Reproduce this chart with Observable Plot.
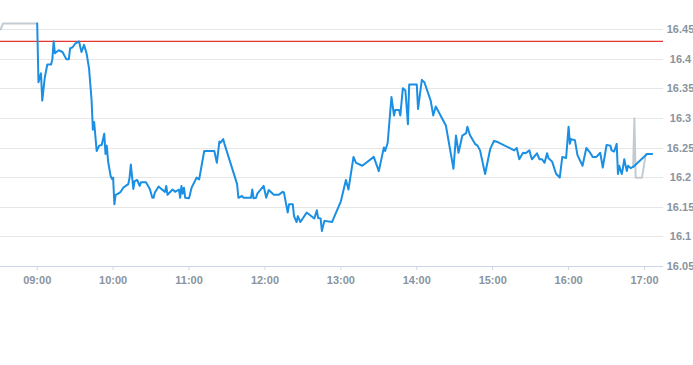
<!DOCTYPE html>
<html><head><meta charset="utf-8">
<script src="https://cdn.jsdelivr.net/npm/d3@7"></script>
<script src="https://cdn.jsdelivr.net/npm/@observablehq/plot@0.6"></script>
<style>body{margin:0;background:#fff} svg{display:block}</style>
</head><body><div id="chart"></div>
<script>
const xStart = "08:31", xEnd = "17:15";
const xTicks = ["09:00","10:00","11:00","12:00","13:00","14:00","15:00","16:00","17:00"];
const yTicks = [16.05,16.1,16.15,16.2,16.25,16.3,16.35,16.4,16.45];
const prevClose = 16.43;

const preTimes = ["08:31","08:33","09:00"];
const preValues = [16.45,16.46,16.46];

const postTimes = ["16:51","16:52","16:53","16:58","17:01","17:02"];
const postValues = [16.218,16.30,16.20,16.20,16.24,16.24];

const mainTimes = ["09:00","09:01","09:03","09:04","09:06","09:08","09:11","09:12","09:13","09:14","09:17","09:20","09:23","09:25","09:26","09:28","09:30","09:33","09:35","09:37","09:39","09:41","09:43","09:44","09:45","09:47","09:49","09:51","09:53","09:54","09:55","09:56","09:58","09:59",
"10:00","10:01","10:02","10:04","10:06","10:08","10:10","10:12","10:13","10:14","10:16","10:17","10:19","10:21","10:22","10:26","10:29","10:31","10:32","10:33","10:36","10:38","10:41","10:42","10:43","10:47","10:49","10:52","10:53","10:54","10:55","10:56","10:57",
"11:00","11:02","11:06","11:08","11:12","11:20","11:22","11:24","11:25","11:27","11:28","11:38","11:39","11:42","11:43","11:49","11:50","11:51","11:53","11:54","11:59",
"12:01","12:03","12:07","12:11","12:14","12:15","12:18","12:19","12:22","12:23","12:25","12:26","12:28","12:33","12:39","12:41","12:42","12:44","12:45","12:47","12:53",
"13:00","13:04","13:06","13:10","13:12","13:17","13:26","13:30","13:34","13:35","13:37","13:40","13:42","13:43","13:46","13:47","13:49","13:51","13:53","13:54",
"14:00","14:01","14:04","14:06","14:11","14:13","14:15","14:23","14:29","14:31","14:33","14:36","14:39","14:40","14:42","14:46","14:48","14:50","14:54","14:58",
"15:01","15:04","15:17","15:19","15:21","15:24","15:26","15:29","15:30","15:31","15:35","15:37","15:39","15:41","15:43","15:44","15:47","15:50","15:53","15:55","15:58",
"16:00","16:01","16:02","16:05","16:07","16:11","16:14","16:17","16:19","16:22","16:25","16:27","16:30","16:33","16:34","16:36","16:38","16:39","16:40","16:42","16:43","16:44","16:46","16:47","16:49","16:51",
"17:02","17:06"];
const mainValues = [16.46,16.361,16.376,16.33,16.369,16.391,16.391,16.40,16.43,16.41,16.415,16.412,16.40,16.40,16.418,16.42,16.426,16.43,16.412,16.424,16.41,16.384,16.33,16.281,16.294,16.245,16.254,16.255,16.274,16.24,16.254,16.228,16.203,16.198,
16.20,16.155,16.171,16.173,16.176,16.183,16.186,16.189,16.20,16.222,16.181,16.194,16.196,16.186,16.192,16.192,16.181,16.166,16.166,16.175,16.185,16.181,16.176,16.186,16.171,16.18,16.176,16.18,16.166,16.186,16.173,16.183,16.166,
16.165,16.183,16.20,16.197,16.245,16.245,16.225,16.261,16.259,16.265,16.257,16.189,16.166,16.169,16.166,16.166,16.18,16.165,16.166,16.173,16.186,
16.166,16.179,16.171,16.171,16.176,16.175,16.141,16.155,16.155,16.135,16.125,16.135,16.125,16.141,16.131,16.145,16.132,16.131,16.11,16.127,16.125,
16.16,16.196,16.18,16.235,16.225,16.22,16.235,16.211,16.251,16.245,16.259,16.336,16.305,16.314,16.314,16.305,16.351,16.347,16.29,16.357,
16.357,16.316,16.365,16.361,16.33,16.305,16.32,16.288,16.215,16.271,16.242,16.271,16.275,16.286,16.272,16.257,16.254,16.246,16.206,16.248,
16.262,16.26,16.246,16.25,16.231,16.242,16.241,16.246,16.238,16.231,16.241,16.231,16.231,16.225,16.241,16.233,16.227,16.207,16.20,16.235,16.233,
16.286,16.257,16.265,16.263,16.238,16.22,16.25,16.242,16.235,16.235,16.242,16.217,16.255,16.254,16.246,16.244,16.257,16.206,16.22,16.206,16.217,16.231,16.211,16.22,16.216,16.218,
16.24,16.24];

const toDate = s => { const [h, m] = s.split(":").map(Number); return new Date(2024, 0, 2, h, m); };
const mk = (ts, vs) => ts.map((t, i) => ({t: toDate(t), v: vs[i]}));
const pre = mk(preTimes, preValues);
const post = mk(postTimes, postValues);
const main = mk(mainTimes, mainValues);
const fmtY = d => String(+d.toFixed(2));
const labelColor = "#8a949e";

const chart = Plot.plot({
  width: 693, height: 365,
  marginLeft: 0, marginRight: 30, marginTop: 29, marginBottom: 99,
  style: {fontFamily: "'Liberation Sans', Arial, sans-serif", fontSize: "11px", background: "#fff", overflow: "visible"},
  x: {type: "time", domain: [toDate(xStart), toDate(xEnd)]},
  y: {domain: [16.05, 16.45]},
  marks: [
    Plot.gridY(yTicks.slice(1), {stroke: "#e6e6e6", strokeOpacity: 1, shapeRendering: "crispEdges"}),
    Plot.ruleY([prevClose], {stroke: "#e8352e", strokeWidth: 1.3}),
    Plot.ruleY([16.05], {stroke: "#ccd6eb", strokeWidth: 1, shapeRendering: "crispEdges"}),
    Plot.axisY(yTicks, {anchor: "right", tickSize: 0, tickPadding: 17, textAnchor: "middle", tickFormat: fmtY, fill: labelColor, fontWeight: "bold", label: null}),
    Plot.axisX(xTicks.map(toDate), {tickSize: 4, tickPadding: 6, stroke: "#ccd6eb", tickFormat: d3.timeFormat("%H:%M"), fill: labelColor, fontWeight: "bold", label: null}),
    Plot.line(pre, {x: "t", y: "v", stroke: "#c3cbd2", strokeWidth: 2}),
    Plot.line(post, {x: "t", y: "v", stroke: "#c3cbd2", strokeWidth: 2}),
    Plot.line(main, {x: "t", y: "v", stroke: "#1a8fe3", strokeWidth: 2})
  ]
});
document.getElementById("chart").append(chart);
</script>
</body></html>
